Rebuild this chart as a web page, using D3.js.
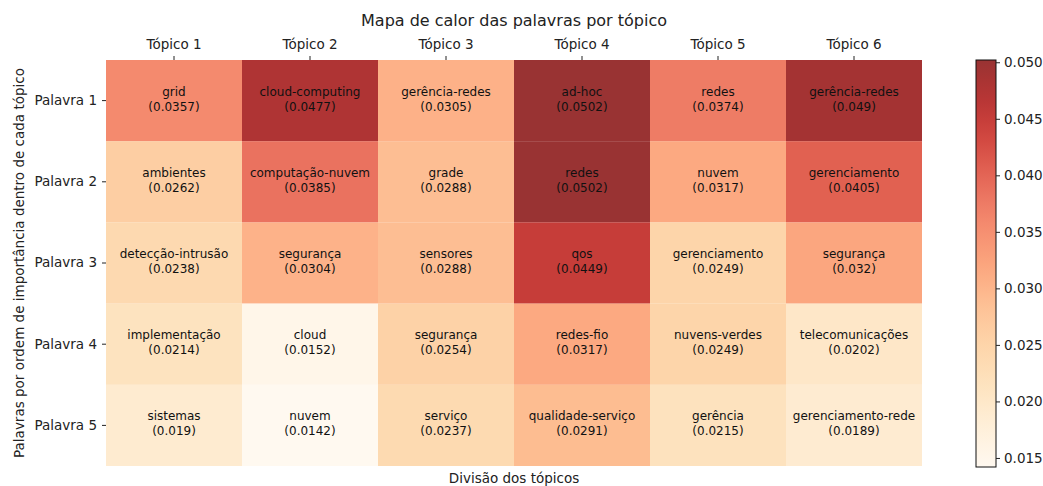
<!DOCTYPE html>
<html>
<head>
<meta charset="utf-8">
<script src="https://cdn.jsdelivr.net/npm/d3@7"></script>
<style>
  body { margin: 0; background: #fff; }
  svg { font-family: "DejaVu Sans", sans-serif; }
</style>
</head>
<body>
<div class="container"></div>
<script>
// data
const topics = ["Tópico 1", "Tópico 2", "Tópico 3", "Tópico 4", "Tópico 5", "Tópico 6"];
const ranks = ["Palavra 1", "Palavra 2", "Palavra 3", "Palavra 4", "Palavra 5"];
const terms = [
  ["grid", "cloud-computing", "gerência-redes", "ad-hoc", "redes", "gerência-redes"],
  ["ambientes", "computação-nuvem", "grade", "redes", "nuvem", "gerenciamento"],
  ["detecção-intrusão", "segurança", "sensores", "qos", "gerenciamento", "segurança"],
  ["implementação", "cloud", "segurança", "redes-fio", "nuvens-verdes", "telecomunicações"],
  ["sistemas", "nuvem", "serviço", "qualidade-serviço", "gerência", "gerenciamento-rede"],
];
const weights = [
  [0.0357, 0.0477, 0.0305, 0.0502, 0.0374, 0.049],
  [0.0262, 0.0385, 0.0288, 0.0502, 0.0317, 0.0405],
  [0.0238, 0.0304, 0.0288, 0.0449, 0.0249, 0.032],
  [0.0214, 0.0152, 0.0254, 0.0317, 0.0249, 0.0202],
  [0.019, 0.0142, 0.0237, 0.0291, 0.0215, 0.0189],
];
const cbarTicks = [0.015, 0.02, 0.025, 0.03, 0.035, 0.04, 0.045, 0.05];

const width = 1043;
const height = 486;
const margin = { top: 60, right: 121, bottom: 20, left: 106 };
const alpha = 0.8;
const tickFont = 13.5;

const cells = [];
weights.forEach((row, i) =>
  row.forEach((v, j) => cells.push({ rank: ranks[i], topic: topics[j], term: terms[i][j], value: v }))
);

const extent = d3.extent(weights.flat());
const color = d3.scaleSequential(d3.interpolateOrRd).domain(extent);

const svg = d3
  .select(".container")
  .append("svg")
  .attr("width", width)
  .attr("height", height);

const x = d3.scaleBand().domain(topics).range([margin.left, 922]);
const y = d3
  .scaleBand()
  .domain(ranks)
  .range([margin.top, height - margin.bottom]);

// cells
const cell = svg
  .append("g")
  .selectAll("g")
  .data(cells)
  .join("g")
  .attr("transform", (d) => `translate(${x(d.topic)},${y(d.rank)})`);

cell
  .append("rect")
  .attr("width", x.bandwidth())
  .attr("height", y.bandwidth())
  .attr("fill", (d) => color(d.value))
  .attr("fill-opacity", alpha);

cell
  .append("text")
  .attr("x", x.bandwidth() / 2)
  .attr("y", y.bandwidth() / 2 - 5)
  .attr("text-anchor", "middle")
  .attr("font-size", 12)
  .attr("fill", "#111")
  .text((d) => d.term);

cell
  .append("text")
  .attr("x", x.bandwidth() / 2)
  .attr("y", y.bandwidth() / 2 + 10)
  .attr("text-anchor", "middle")
  .attr("font-size", 12)
  .attr("fill", "#111")
  .text((d) => `(${d.value})`);

// axes
const xAxis = svg
  .append("g")
  .attr("transform", `translate(0,${margin.top})`)
  .call(d3.axisTop(x).tickSize(4).tickPadding(7));
xAxis.select(".domain").remove();
xAxis.selectAll("text").attr("font-size", tickFont).attr("fill", "#222").attr("font-family", "DejaVu Sans");
xAxis.selectAll("line").attr("stroke", "#222");

const yAxis = svg
  .append("g")
  .attr("transform", `translate(${margin.left},0)`)
  .call(d3.axisLeft(y).tickSize(4).tickPadding(5));
yAxis.select(".domain").remove();
yAxis.selectAll("text").attr("font-size", tickFont).attr("fill", "#222").attr("font-family", "DejaVu Sans");
yAxis.selectAll("line").attr("stroke", "#222");

// titles
svg
  .append("text")
  .attr("x", (margin.left + 922) / 2)
  .attr("y", 26)
  .attr("text-anchor", "middle")
  .attr("font-size", 16)
  .attr("fill", "#222")
  .text("Mapa de calor das palavras por tópico");

svg
  .append("text")
  .attr("x", (margin.left + 922) / 2)
  .attr("y", 483)
  .attr("text-anchor", "middle")
  .attr("font-size", tickFont)
  .attr("fill", "#222")
  .text("Divisão dos tópicos");

svg
  .append("text")
  .attr("transform", `translate(24,${(margin.top + height - margin.bottom) / 2}) rotate(-90)`)
  .attr("text-anchor", "middle")
  .attr("font-size", tickFont)
  .attr("fill", "#222")
  .text("Palavras por ordem de importância dentro de cada tópico");

// colorbar
const cbX = 976;
const cbW = 20;
const cbScale = d3.scaleLinear().domain(extent).range([467, 60]);

const grad = svg
  .append("defs")
  .append("linearGradient")
  .attr("id", "cbar")
  .attr("x1", 0)
  .attr("y1", 1)
  .attr("x2", 0)
  .attr("y2", 0);
grad
  .selectAll("stop")
  .data(d3.range(0, 1.0001, 0.05))
  .join("stop")
  .attr("offset", (t) => t)
  .attr("stop-color", (t) => color(extent[0] + t * (extent[1] - extent[0])));

svg
  .append("rect")
  .attr("x", cbX)
  .attr("y", cbScale(extent[1]))
  .attr("width", cbW)
  .attr("height", cbScale(extent[0]) - cbScale(extent[1]))
  .attr("fill", "url(#cbar)")
  .attr("fill-opacity", alpha);

svg
  .append("rect")
  .attr("x", cbX)
  .attr("y", cbScale(extent[1]))
  .attr("width", cbW)
  .attr("height", cbScale(extent[0]) - cbScale(extent[1]))
  .attr("fill", "none")
  .attr("stroke", "#111")
  .attr("stroke-width", 1);

const cAxis = svg
  .append("g")
  .attr("transform", `translate(${cbX + cbW},0)`)
  .call(
    d3.axisRight(cbScale)
      .tickValues(cbarTicks)
      .tickFormat(d3.format(".3f"))
      .tickSize(4)
      .tickPadding(4)
  );
cAxis.select(".domain").remove();
cAxis.selectAll("text").attr("font-size", tickFont).attr("fill", "#222").attr("font-family", "DejaVu Sans");
cAxis.selectAll("line").attr("stroke", "#222");
</script>
</body>
</html>
